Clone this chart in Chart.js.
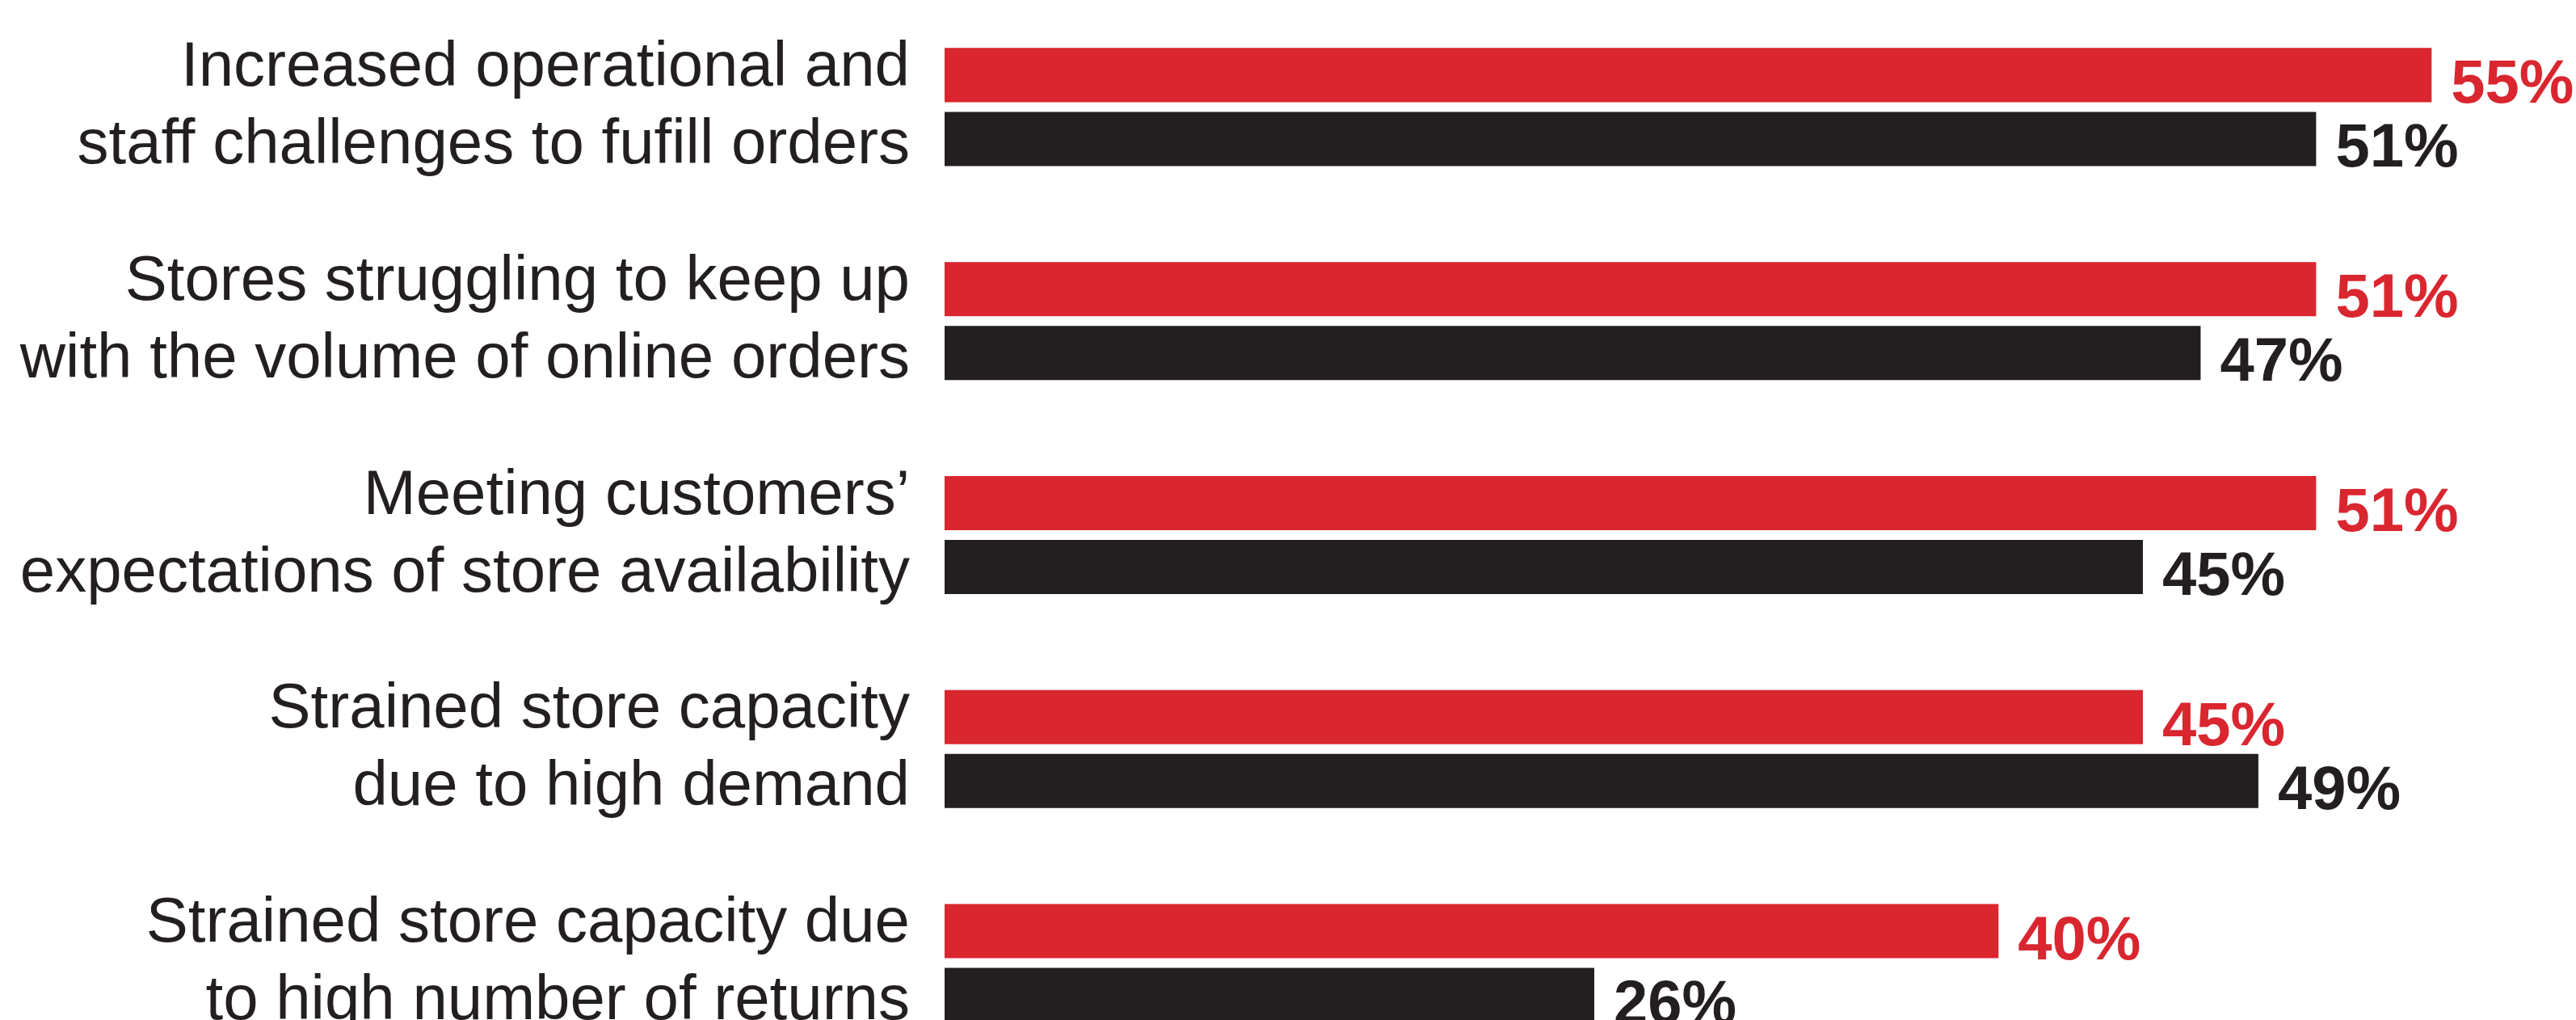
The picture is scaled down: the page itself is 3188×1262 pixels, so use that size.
<!DOCTYPE html>
<html>
<head>
<meta charset="utf-8">
<script src="https://cdn.jsdelivr.net/npm/chart.js@4.4.1/dist/chart.umd.min.js"></script>
<style>
  html, body { margin: 0; padding: 0; background: #ffffff; overflow: hidden; }
  #wrap { width: 3188px; height: 1262px; overflow: hidden; }
</style>
</head>
<body>
<div id="wrap"><canvas id="myChart" width="3188" height="1324"></canvas></div>
<script>
const categories = [
    ["Increased operational and", "staff challenges to fufill orders"],
    ["Stores struggling to keep up", "with the volume of online orders"],
    ["Meeting customers\u2019", "expectations of store availability"],
    ["Strained store capacity", "due to high demand"],
    ["Strained store capacity due", "to high number of returns"]
];
const redValues = [55, 51, 51, 45, 40];
const blackValues = [51, 47, 45, 49, 26];
const seriesNames = ["Red series", "Black series"];
const barColors = [
    "#d9262f", //red
    "#231f20" //black
];
const axisMin = 3.5;
const axisMax = 60;

// value labels drawn next to each bar end
const valueLabels = {
    id: "valueLabels",
    afterDatasetsDraw(chart) {
        const ctx = chart.ctx;
        ctx.save();
        ctx.font = "bold 76px 'Liberation Sans', Arial, sans-serif";
        ctx.textAlign = "left";
        ctx.textBaseline = "alphabetic";
        chart.data.datasets.forEach((ds, i) => {
            const meta = chart.getDatasetMeta(i);
            ctx.fillStyle = barColors[i];
            meta.data.forEach((bar, j) => {
                ctx.fillText(`${ds.data[j]}%`, bar.x + 24, bar.y + bar.height / 2 + 1);
            });
        });
        ctx.restore();
    }
};

new Chart("myChart", {
    type: "bar",
    data: {
        labels: categories,
        datasets: [{
                label: seriesNames[0],
                data: redValues,
                backgroundColor: barColors[0],
                categoryPercentage: 0.597,
                barPercentage: 0.848
            }, {
                label: seriesNames[1],
                data: blackValues,
                backgroundColor: barColors[1],
                categoryPercentage: 0.597,
                barPercentage: 0.848
            }]
    },
    options: {
        indexAxis: "y",
        responsive: false,
        animation: false,
        devicePixelRatio: 1,
        layout: { padding: 0 },
        plugins: {
            legend: { display: false },
            tooltip: { enabled: false }
        },
        scales: {
            x: {
                display: false,
                min: axisMin,
                max: axisMax
            },
            y: {
                grid: { display: false, drawTicks: false },
                border: { display: false },
                afterFit: (scale) => {
                    scale.width = 1169;
                    scale.paddingTop = 0;
                    scale.paddingBottom = 0;
                },
                ticks: {
                    padding: 43,
                    color: "#231f20",
                    font: { family: "'Liberation Sans', Arial, sans-serif", size: 78, lineHeight: "96px" }
                }
            }
        }
    },
    plugins: [valueLabels]
});
</script>
</body>
</html>
